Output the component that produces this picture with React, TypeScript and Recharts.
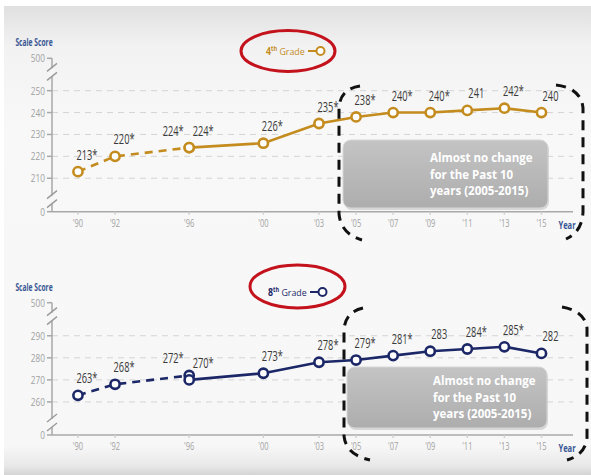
import React from 'react'
import { LineChart, Line, XAxis, YAxis, ReferenceLine, ReferenceDot, LabelList, Legend } from 'recharts'

// NAEP mathematics, average scale scores (accommodations not permitted = dashed)
const X_TICKS = [1990, 1992, 1996, 2000, 2003, 2005, 2007, 2009, 2011, 2013, 2015]
const YEARS_DASHED = [1990, 1992, 1996]
const YEARS_SOLID = [1996, 2000, 2003, 2005, 2007, 2009, 2011, 2013, 2015]

const G4_DASHED = [213, 220, 224]
const G4_DASHED_SIG = [true, true, true]
const G4_SOLID = [224, 226, 235, 238, 240, 240, 241, 242, 240]
const G4_SOLID_SIG = [true, true, true, true, true, true, false, true, false]
const G4_GRID = [210, 220, 230, 240, 250]

const G8_DASHED = [263, 268, 272]
const G8_DASHED_SIG = [true, true, true]
const G8_SOLID = [270, 273, 278, 279, 281, 283, 284, 285, 282]
const G8_SOLID_SIG = [true, true, true, true, true, false, true, true, false]
const G8_GRID = [260, 270, 280, 290]

const AXIS_ENDS = ['0', '500']
const NOTE = ['Almost no change', 'for the Past 10', 'years (2005-2015)']

const GOLD = '#c48c1e'
const NAVY = '#1c2767'
const RED = '#c3121c'
const SANS = '"Open Sans", sans-serif'

const rows = (years: number[], vals: number[], sig: boolean[]) =>
  years.map((year, i) => ({ year, score: vals[i], label: `${vals[i]}${sig[i] ? '*' : ''}` }))

const fmtYear = (v: number) => `'${String(v).slice(2)}`

// condensed-looking text: squeeze a regular face horizontally
function Narrow(props: any) {
  const { x, y, sx = 0.7, children, ...rest } = props
  return (
    <text transform={`translate(${x} ${y}) scale(${sx} 1)`} x={0} y={0} fontFamily={SANS} {...rest}>
      {children}
    </text>
  )
}

function BreakMark(props: any) {
  const { cx, cy, shift } = props
  const y = cy + shift
  return (
    <g>
      <rect x={cx - 3} y={y - 4} width={6} height={8} fill="#f6f6f6" />
      <line x1={cx - 5} y1={y - 1} x2={cx + 5} y2={y - 9} stroke="#9a9a9a" strokeWidth={1.5} />
      <line x1={cx - 5} y1={y + 8} x2={cx + 5} y2={y} stroke="#9a9a9a" strokeWidth={1.5} />
    </g>
  )
}

function makeLabel(kind: 'dashed' | 'solid', n: number) {
  return (props: any) => {
    const { x, y, value, index } = props
    let dx = 9
    if (kind === 'dashed' && index === n - 1) dx = -16
    if (kind === 'solid' && index === 0) dx = 14
    return (
      <Narrow x={x + dx} y={y - 12} sx={0.64} textAnchor="middle" fontSize={14.5} fill="#3a3a3a">
        {value}
      </Narrow>
    )
  }
}

const XTick = (props: any) => (
  <Narrow x={props.x} y={props.y + 10} sx={0.68} textAnchor="middle" fontSize={11} fill="#a2a2a2">
    {fmtYear(props.payload.value)}
  </Narrow>
)

type LegendPos = { left: number; top: number; ecx: number; ecy: number; rx: number; ry: number }

type PanelProps = {
  top: number
  height: number
  marginTop: number
  marginBottom: number
  color: string
  grade: string
  dashed: any[]
  solid: any[]
  domain: [number, number]
  grid: number[]
  legendPos: LegendPos
}

function Panel(p: PanelProps) {
  const [lo, hi] = p.domain
  const xLo = 1988.6
  const ticks = [lo, ...p.grid, hi]
  const lp = p.legendPos
  const yLabel = (v: number) => (v === lo ? AXIS_ENDS[0] : v === hi ? AXIS_ENDS[1] : String(v))
  const YTick = (t: any) => (
    <Narrow x={t.x} y={t.y + 4} sx={0.75} textAnchor="end" fontSize={11} fill="#a2a2a2">
      {yLabel(t.payload.value)}
    </Narrow>
  )
  const legend = () => (
    <svg width={70} height={50} style={{ display: 'block', overflow: 'visible' }}>
      <ellipse cx={lp.ecx} cy={lp.ecy} rx={lp.rx} ry={lp.ry} fill="none" stroke={RED} strokeWidth={3} />
      <Narrow x={6} y={28.5} sx={0.9} fontSize={9.8} fill={p.color}>
        <tspan fontWeight={700}>{p.grade[0]}</tspan>
        <tspan fontSize={6.2} fontWeight={700} dy={-3.5}>{p.grade.slice(1)}</tspan>
        <tspan dy={3.5}> Grade</tspan>
      </Narrow>
      <line x1={48} y1={25} x2={56} y2={25} stroke={p.color} strokeWidth={2} />
      <circle cx={60.5} cy={25} r={4} fill="#fff" stroke={p.color} strokeWidth={2} />
    </svg>
  )
  const dot = { r: 4.6, fill: '#fff', stroke: p.color, strokeWidth: 2.6, strokeDasharray: '0' }
  return (
    <div style={{ position: 'absolute', left: 0, top: p.top }}>
      <LineChart
        width={591}
        height={p.height}
        margin={{ top: p.marginTop, right: 18, bottom: p.marginBottom, left: 12 }}
      >
        {p.grid.map((g) => (
          <ReferenceLine key={g} y={g} stroke="#d4d4d4" strokeDasharray="6 5" />
        ))}
        <XAxis
          dataKey="year"
          type="number"
          domain={[xLo, 2016.7]}
          ticks={X_TICKS}
          allowDataOverflow
          height={24}
          stroke="#a8a8a8"
          strokeWidth={1.5}
          tickSize={3}
          tickLine={{ stroke: '#d0d0d0' }}
          tick={XTick}
          label={{
            content: (l: any) => {
              const vb = l.viewBox
              return (
                <Narrow x={vb.x + vb.width - 6} y={vb.y + 17} sx={0.72} textAnchor="middle" fontWeight={700} fontSize={10.5} fill="#3a5795">
                  Year
                </Narrow>
              )
            },
          }}
        />
        <YAxis
          type="number"
          domain={p.domain}
          ticks={ticks}
          allowDataOverflow
          interval={0}
          width={40}
          stroke="#a8a8a8"
          strokeWidth={1.5}
          tickSize={5}
          tickMargin={2}
          tick={YTick}
          label={{
            content: (l: any) => {
              const vb = l.viewBox
              return (
                <Narrow x={vb.x + vb.width - 18} y={vb.y - 12} sx={0.64} textAnchor="middle" fontWeight={700} fontSize={10.5} fill="#3a5795">
                  Scale Score
                </Narrow>
              )
            },
          }}
        />
        <ReferenceDot x={xLo} y={hi} ifOverflow="visible" shape={(s: any) => <BreakMark {...s} shift={14} />} />
        <ReferenceDot x={xLo} y={lo} ifOverflow="visible" shape={(s: any) => <BreakMark {...s} shift={-12} />} />
        <Legend
          layout="horizontal"
          verticalAlign="middle"
          align="center"
          content={legend}
          wrapperStyle={{ left: lp.left, top: lp.top, width: 70, height: 50, overflow: 'visible' }}
        />
        <Line
          data={p.dashed}
          dataKey="score"
          stroke={p.color}
          strokeWidth={2.6}
          strokeDasharray="8 6"
          dot={dot}
          isAnimationActive={false}
        >
          <LabelList dataKey="label" content={makeLabel('dashed', p.dashed.length)} />
        </Line>
        <Line data={p.solid} dataKey="score" stroke={p.color} strokeWidth={2.6} dot={dot} isAnimationActive={false}>
          <LabelList dataKey="label" content={makeLabel('solid', p.solid.length)} />
        </Line>
      </LineChart>
    </div>
  )
}

function NoteBox({ x, y, w, h, tx, ty }: { x: number; y: number; w: number; h: number; tx: number; ty: number }) {
  return (
    <g>
      <rect x={x + 1} y={y + 2} width={w} height={h} rx={8} fill="#9a9a9a" opacity={0.35} />
      <rect x={x} y={y} width={w} height={h} rx={8} fill="url(#boxGrad)" stroke="#d6d6d6" strokeWidth={1} />
      {NOTE.map((t, i) => (
        <text key={t} x={tx} y={ty + i * 16.5} fontFamily={SANS} fontWeight={700} fontSize={11.5} fill="#fff">
          {t}
        </text>
      ))}
    </g>
  )
}

export default function App() {
  return (
    <div style={{ position: 'absolute', left: 0, top: 0, width: 591, height: 475, background: '#fff', overflow: 'hidden' }}>
      <div
        style={{
          position: 'absolute',
          left: 4,
          top: 6,
          right: 0,
          bottom: 0,
          background: 'linear-gradient(to bottom, #e0e0e0 0px, #f2f2f2 40px, #f8f8f8 120px, #f7f7f7 440px, #e8e8e8 460px, #d4d4d4 469px)',
        }}
      />
      <Panel
        top={0}
        height={240}
        marginTop={58.3}
        marginBottom={4.3}
        color={GOLD}
        grade="4th"
        dashed={rows(YEARS_DASHED, G4_DASHED, G4_DASHED_SIG)}
        solid={rows(YEARS_SOLID, G4_SOLID, G4_SOLID_SIG)}
        domain={[194.7, 264.8]}
        grid={G4_GRID}
        legendPos={{ left: 260, top: 26, ecx: 28, ecy: 25, rx: 47, ry: 20.5 }}
      />
      <Panel
        top={240}
        height={235}
        marginTop={62.7}
        marginBottom={16}
        color={NAVY}
        grade="8th"
        dashed={rows(YEARS_DASHED, G8_DASHED, G8_DASHED_SIG)}
        solid={rows(YEARS_SOLID, G8_SOLID, G8_SOLID_SIG)}
        domain={[245, 305]}
        grid={G8_GRID}
        legendPos={{ left: 262, top: 27, ecx: 35.5, ecy: 19.5, rx: 47.5, ry: 21.5 }}
      />
      <svg width={591} height={475} style={{ position: 'absolute', left: 0, top: 0, pointerEvents: 'none' }}>
        <defs>
          <linearGradient id="boxGrad" x1="0" y1="0" x2="0" y2="1">
            <stop offset="0%" stopColor="#c4c4c4" />
            <stop offset="100%" stopColor="#adadad" />
          </linearGradient>
        </defs>
        <NoteBox x={343} y={140} w={205} h={68} tx={430} ty={162} />
        <NoteBox x={347} y={367} w={200} h={61} tx={433} ty={385} />
        <g fill="none" stroke="#111" strokeWidth={3} strokeDasharray="10 7">
          <path d="M 360 86 Q 340 89 339 108 L 339 214 Q 341 234 362 240" />
          <path d="M 556 85 Q 581 88 583 108 L 583 212 Q 582 232 566 239" />
          <path d="M 363 308 Q 345 312 344 330 L 344 436 Q 346 455 370 460" />
          <path d="M 562 307 Q 585 311 587 328 L 587 438 Q 585 455 567 460" />
        </g>
      </svg>
    </div>
  )
}
